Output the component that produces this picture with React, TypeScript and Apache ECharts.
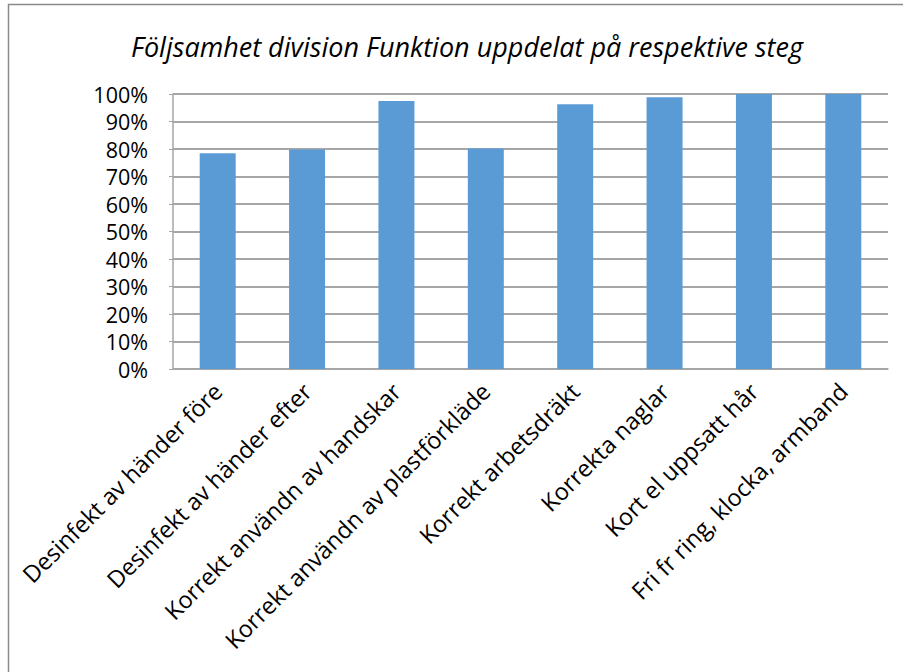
import React, { useEffect, useRef } from "react";
import * as echarts from "echarts";

const categories = [
  "Desinfekt av händer före",
  "Desinfekt av händer efter",
  "Korrekt användn av handskar",
  "Korrekt användn av plastförkläde",
  "Korrekt arbetsdräkt",
  "Korrekta naglar",
  "Kort el uppsatt hår",
  "Fri fr ring, klocka, armband",
];
const values = [0.785, 0.798, 0.975, 0.802, 0.963, 0.988, 1.0, 1.0];
const titleText = "Följsamhet division Funktion uppdelat på respektive steg";

export default function App() {
  const ref = useRef<HTMLDivElement>(null);
  useEffect(() => {
    if (!ref.current) return;
    const chart = echarts.init(ref.current, null, { renderer: "svg" });
    const font = "'Open Sans', 'Noto Sans', sans-serif";
    chart.setOption({
      animation: false,
      backgroundColor: "#ffffff",
      title: {
        text: titleText,
        left: 126,
        top: 28,
        textStyle: {
          fontFamily: font,
          fontStyle: "italic",
          fontWeight: "normal",
          fontSize: 27,
          color: "#000",
        },
      },
      graphic: [
        {
          type: "rect",
          shape: { x: 8.5, y: 4.5, width: 1000, height: 1000 },
          style: { fill: "none", stroke: "#8a8a8a", lineWidth: 1.5 },
          silent: true,
        },
      ],
      grid: { left: 173, right: 15, top: 94, bottom: 303, containLabel: false },
      xAxis: {
        type: "category",
        data: categories,
        axisLine: { show: true, lineStyle: { color: "#a6a6a6", width: 1.5 } },
        axisTick: { show: false },
        axisLabel: {
          interval: 0,
          rotate: 45,
          margin: 18,
          fontFamily: font,
          fontSize: 23.5,
          color: "#000",
        },
      },
      yAxis: {
        type: "value",
        min: 0,
        max: 1,
        interval: 0.1,
        axisLine: { show: true, lineStyle: { color: "#a6a6a6", width: 1.5 } },
        axisTick: { show: true, length: 4, lineStyle: { color: "#a6a6a6" } },
        splitLine: { show: true, lineStyle: { color: "#888888", width: 1.5 } },
        axisLabel: {
          margin: 25,
          fontFamily: font,
          fontSize: 21.5,
          color: "#000",
          formatter: (v: number) => Math.round(v * 100) + "%",
        },
      },
      series: [
        {
          type: "bar",
          data: values,
          barWidth: 36,
          itemStyle: { color: "#5b9bd5" },
        },
      ],
    });
    return () => chart.dispose();
  }, []);
  return (
    <div
      ref={ref}
      style={{ position: "absolute", left: 0, top: 0, width: 903, height: 672 }}
    />
  );
}
